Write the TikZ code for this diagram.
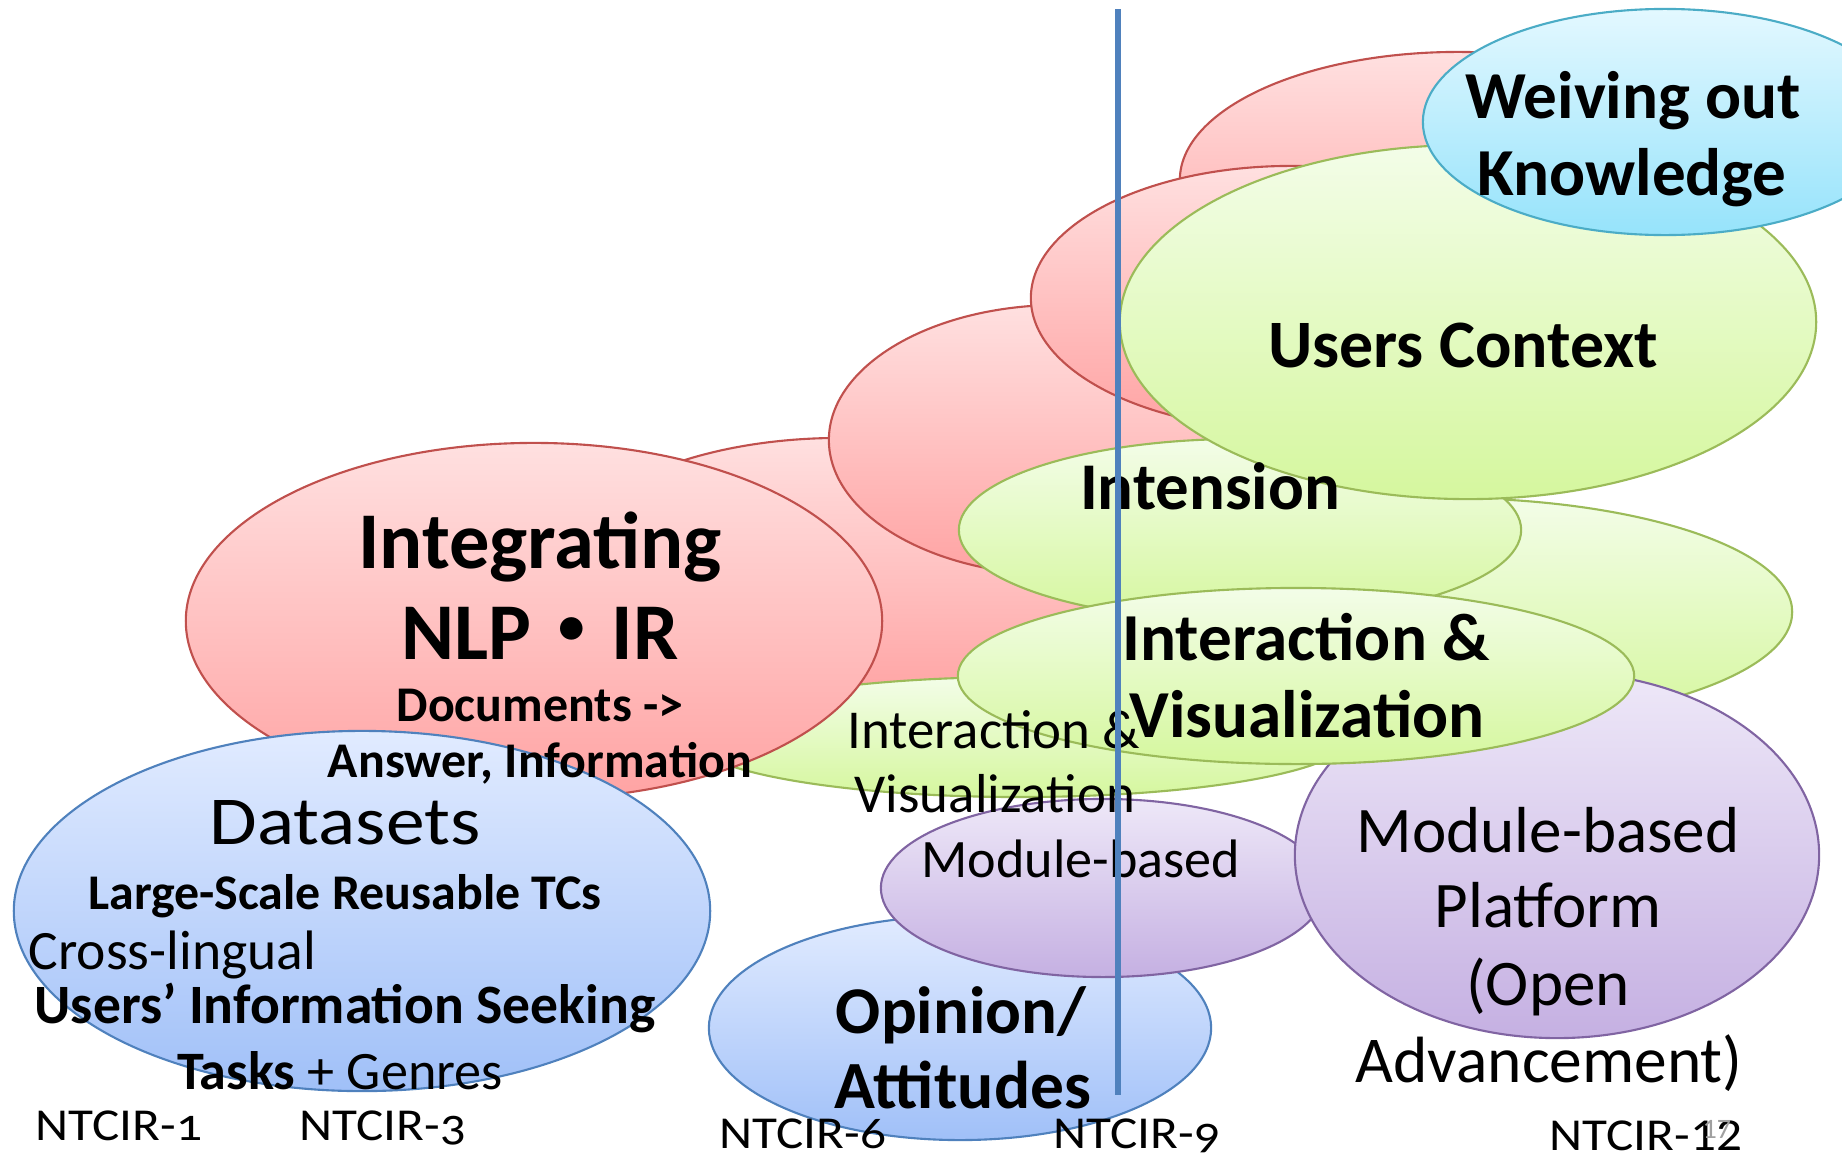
\documentclass[tikz,border=0pt]{standalone}
\usepackage{fontspec}
\setmainfont{Carlito}
\newfontfamily\cjkfont{Noto Sans CJK JP}
\newfontfamily\widefont[FakeStretch=1.13]{Carlito}
\newfontfamily\labelfont[FakeStretch=1.12,Numbers=OldStyle]{Carlito}
\newfontfamily\labelfontL[FakeStretch=1.12]{Carlito}
\usetikzlibrary{shapes.geometric}
\definecolor{pkS}{HTML}{C0504D}\definecolor{pkT}{HTML}{FFE0E0}\definecolor{pkB}{HTML}{FFA3A3}
\definecolor{grS}{HTML}{9BBB59}\definecolor{grT}{HTML}{F3FDE8}\definecolor{grB}{HTML}{D5F79E}
\definecolor{blS}{HTML}{4F81BD}\definecolor{blT}{HTML}{E1EBFF}\definecolor{blB}{HTML}{A0C0F8}
\definecolor{puS}{HTML}{8064A2}\definecolor{puT}{HTML}{EEE8F8}\definecolor{puB}{HTML}{C5B0E2}
\definecolor{cyS}{HTML}{4BACC6}\definecolor{cyT}{HTML}{E3F8FF}\definecolor{cyB}{HTML}{96E3FB}
\definecolor{lineC}{HTML}{4F81BD}
\definecolor{pageNo}{HTML}{A0A0A0}
\newcommand\fs[1]{\fontsize{#1}{#1}\selectfont}
\tikzset{
  blob/.style={ellipse, inner sep=0pt, line width=0.6pt},
  pinkblob/.style={blob, draw=pkS, top color=pkT, bottom color=pkB},
  greenblob/.style={blob, draw=grS, top color=grT, bottom color=grB},
  blueblob/.style={blob, draw=blS, top color=blT, bottom color=blB},
  purpleblob/.style={blob, draw=puS, top color=puT, bottom color=puB},
  cyanblob/.style={blob, draw=cyS, top color=cyT, bottom color=cyB},
  lbl/.style={anchor=base, inner sep=0pt, text=black},
  lblw/.style={anchor=base west, inner sep=0pt, text=black},
  ntcir/.style={lblw, font=\labelfont\fs{13}},
  timeline/.style={draw=lineC, line width=1.5pt},
}
\begin{document}
\begin{tikzpicture}[x=0.01cm, y=-0.01cm]
\path[use as bounding box] (0,0) rectangle (1842,1157);
\clip (0,0) rectangle (1842,1157);
% back layer of ellipses
\node[pinkblob, minimum width=5.56cm, minimum height=2.56cm] (pinkA) at (1458,180) {};
\node[pinkblob, minimum width=5.60cm, minimum height=2.64cm] (pinkD) at (840,570) {};
\node[pinkblob, minimum width=4.62cm, minimum height=2.70cm] (pinkC) at (1060,440) {};
\node[pinkblob, minimum width=5.20cm, minimum height=2.64cm] (pinkB) at (1291,298) {};
\node[greenblob, minimum width=6.60cm, minimum height=1.20cm] (greenBig) at (1020,737) {};
\node[greenblob, minimum width=6.94cm, minimum height=2.28cm] (greenRight) at (1445,612) {};
\node[greenblob, minimum width=5.62cm, minimum height=1.82cm] (intension) at (1240,530) {};
\node[greenblob, minimum width=6.96cm, minimum height=3.54cm] (usersCtx) at (1468,322) {};
\node[cyanblob, minimum width=4.84cm, minimum height=2.26cm] (weiving) at (1665,122) {};
\node[pinkblob, minimum width=6.96cm, minimum height=3.56cm] (integ) at (534,621) {};
\node[blueblob, minimum width=6.96cm, minimum height=3.60cm] (datasets) at (362,911) {};
\node[blueblob, minimum width=5.02cm, minimum height=2.24cm] (opinion) at (960,1028) {};
\node[purpleblob, minimum width=4.44cm, minimum height=1.78cm] (modSmall) at (1103,888) {};
\node[purpleblob, minimum width=5.24cm, minimum height=3.66cm] (modBig) at (1557,855) {};
\node[greenblob, minimum width=6.76cm, minimum height=1.76cm] (interact) at (1296,676) {};
% texts
\node[lbl, font=\bfseries\fs{19.1}] (tWeiv1) at (1633,118) {Weiving out};
\node[lbl, font=\bfseries\fs{19.1}] (tWeiv2) at (1632,195) {Knowledge};
\node[lbl, font=\bfseries\fs{19.3}] (tUsers) at (1463,367) {Users Context};
\node[lbl, font=\bfseries\fs{19}] (tIntens) at (1210,509) {Intension};
\node[lbl, font=\bfseries\fs{19.1}] (tInter1) at (1306,660) {Interaction \&};
\node[lbl, font=\bfseries\fs{19.1}] (tInter2) at (1307,737) {Visualization};
\node[lbl, font=\bfseries\fs{22.9}] (tInteg1) at (540,568) {Integrating};
\node[lbl, font=\bfseries\fs{22.9}] (tInteg2) at (540,659) {NLP{\cjkfont ・}IR};
\node[lbl, font=\bfseries\fs{14.2}] (tDoc1) at (540,721) {Documents ->};
\node[lbl, font=\bfseries\fs{14.2}] (tDoc2) at (540,777) {Answer, Information};
\node[lbl, font=\fs{15.6}] (tIV1) at (994,748) {Interaction \&};
\node[lbl, font=\fs{15.6}] (tIV2) at (995,812) {Visualization};
\node[lbl, font=\fs{15.4}] (tMod) at (1081,877) {Module-based};
\node[lbl, font=\fs{18.5}] (tMB1) at (1548,852) {Module-based};
\node[lbl, font=\fs{18.5}] (tMB2) at (1548,927) {Platform};
\node[lbl, font=\fs{18.5}] (tMB3) at (1548,1005) {(Open};
\node[lbl, font=\fs{18.6}] (tMB4) at (1549,1082) {Advancement)};
\node[lbl, font=\bfseries\fs{19}] (tOp1) at (961,1033) {Opinion/};
\node[lbl, font=\bfseries\fs{19.2}] (tOp2) at (963,1108) {Attitudes};
\node[lbl, font=\widefont\fs{19.5}] (tData) at (345,844) {Datasets};
\node[lbl, font=\bfseries\fs{14.2}] (tLarge) at (345,909) {Large-Scale Reusable TCs};
\node[lblw, font=\fs{15.8}] (tCross) at (28,969) {Cross-lingual};
\node[lbl, font=\bfseries\fs{15.8}] (tSeek) at (345,1023) {Users’ Information Seeking};
\node[lbl, font=\fs{15.4}] (tTasks) at (340,1089) {\textbf{Tasks} + Genres};
\node[ntcir] (n1) at (35,1140) {NTCIR-1};
\node[ntcir] (n3) at (299,1140) {NTCIR-3};
\node[ntcir] (n6) at (719,1148) {NTCIR-6};
\node[ntcir] (n9) at (1053,1148) {NTCIR-9};
\node[ntcir, font=\labelfontL\fs{13}] (n12) at (1549,1150) {NTCIR-12};
\node[lblw, font=\fs{8}, text=pageNo] (pg) at (1702,1138) {17};
% timeline
\coordinate (lineTop) at (1118,9);
\coordinate (lineBot) at (1118,1095);
\draw[timeline] (lineTop) -- (lineBot);
\end{tikzpicture}
\end{document}
